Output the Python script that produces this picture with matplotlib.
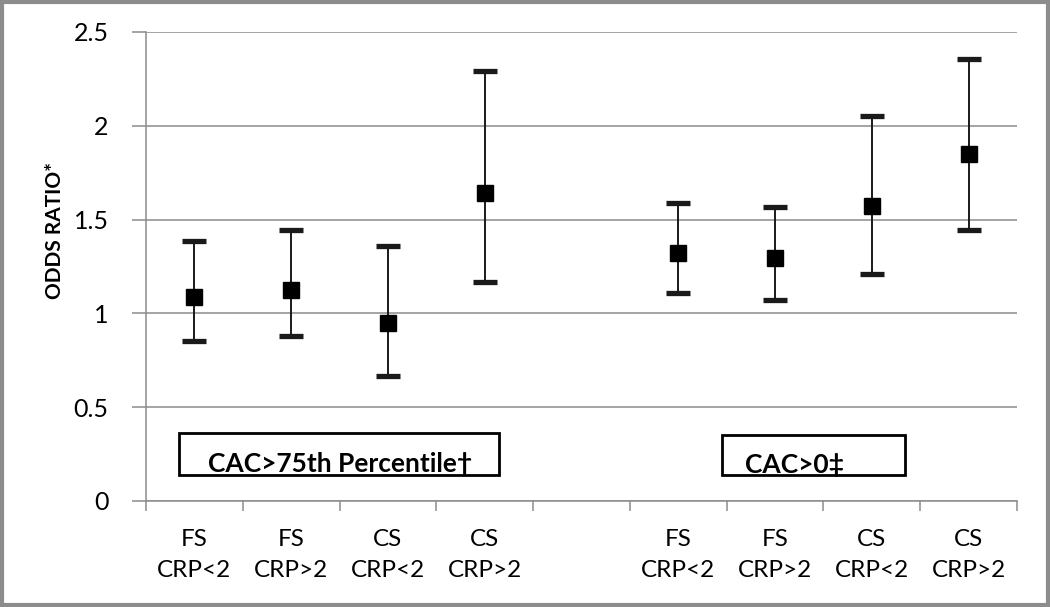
import matplotlib
matplotlib.use("Agg")
import matplotlib.pyplot as plt
import matplotlib.ticker as ticker
from matplotlib.patches import Rectangle

# category labels (slot 4 is the empty gap between the two groups)
labels = ["FS\nCRP<2", "FS\nCRP>2", "CS\nCRP<2", "CS\nCRP>2", "",
          "FS\nCRP<2", "FS\nCRP>2", "CS\nCRP<2", "CS\nCRP>2"]
slots = [0, 1, 2, 3, 5, 6, 7, 8]
odds = [1.09, 1.125, 0.95, 1.64, 1.32, 1.295, 1.575, 1.85]
lower = [0.855, 0.88, 0.665, 1.165, 1.11, 1.07, 1.21, 1.445]
upper = [1.385, 1.445, 1.36, 2.29, 1.588, 1.567, 2.052, 2.355]

plt.rcParams['font.family'] = ['Lato', 'DejaVu Sans']

fig = plt.figure(figsize=(10.5, 6.07), dpi=100)
ax = fig.add_axes([146/1050, 1-501/607, (1017-146)/1050, (501-32)/607])

err = [[o - l for o, l in zip(odds, lower)], [u - o for o, u in zip(odds, upper)]]
ax.errorbar(slots, odds, yerr=err, fmt='s', color='black', markersize=11.5,
            ecolor='#1a1a1a', elinewidth=1.4, capsize=8.5, capthick=3.8, zorder=3)

ax.set_xlim(-0.5, 8.5)
ax.set_ylim(0, 2.5)
ax.yaxis.set_major_locator(ticker.MultipleLocator(0.5))
ax.yaxis.set_major_formatter(ticker.FuncFormatter(lambda v, p: f"{v:g}"))
ax.yaxis.grid(True, color='#8c8c8c', linewidth=1.1)
ax.set_axisbelow(True)

# boundaries as major ticks, labels centred as minor ticks
ax.xaxis.set_major_locator(ticker.FixedLocator([i - 0.5 for i in range(10)]))
ax.xaxis.set_major_formatter(ticker.NullFormatter())
ax.xaxis.set_minor_locator(ticker.FixedLocator(range(9)))
ax.xaxis.set_minor_formatter(ticker.FixedFormatter(labels))
ax.tick_params(axis='x', which='major', length=7, color='#8c8c8c', width=1.1)
ax.tick_params(axis='x', which='minor', length=0, pad=20, labelsize=17.5)
ax.tick_params(axis='y', length=10, color='#8c8c8c', width=1.1, pad=17, labelsize=18)
for lab in ax.xaxis.get_minorticklabels():
    lab.set_linespacing(1.6)

for s in ['top', 'right']:
    ax.spines[s].set_visible(False)
for s in ['left', 'bottom']:
    ax.spines[s].set_color('#8c8c8c')
    ax.spines[s].set_linewidth(1.1)

ax.set_ylabel("ODDS RATIO*", fontsize=15, fontweight='bold', labelpad=10)
ax.yaxis.set_label_coords(-0.093, (501-230)/469)

# group label boxes
box1 = Rectangle((179/1050, 1-475/607), 320/1050, 42/607, transform=fig.transFigure,
                 fill=False, edgecolor='black', linewidth=2)
box2 = Rectangle((722/1050, 1-475/607), 183/1050, 40/607, transform=fig.transFigure,
                 fill=False, edgecolor='black', linewidth=2)
fig.patches.extend([box1, box2])
fig.text(340/1050, 1-472/607, "CAC>75th Percentile†", fontsize=19, fontweight='bold',
         ha='center', va='baseline')
fig.text(745/1050, 1-473/607, "CAC>0‡", fontsize=19, fontweight='bold',
         ha='left', va='baseline')

# outer frame
fig.patches.append(Rectangle((0.0015, 0.0025), 0.997, 0.995, transform=fig.transFigure,
                             fill=False, edgecolor='#8c8c8c', linewidth=3))

fig.savefig("out.png", dpi=100)
